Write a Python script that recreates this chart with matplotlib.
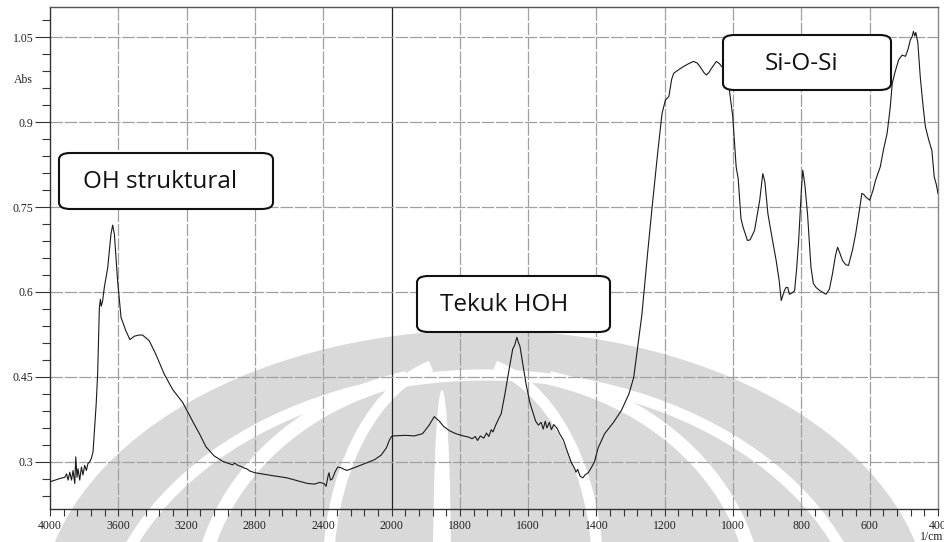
import numpy as np
import matplotlib
matplotlib.use("Agg")
from matplotlib import pyplot
from matplotlib.patches import Ellipse, Arc, FancyBboxPatch
from matplotlib.ticker import FixedLocator, FixedFormatter

# FTIR spectrum (wavenumber 1/cm, absorbance)
wavenumber = [
	4000, 3970, 3940, 3913, 3903, 3894, 3884, 3874, 3865, 3855, 3849, 3842, 3836, 3826,
	3816, 3807, 3797, 3787, 3778, 3768, 3758, 3748, 3740, 3730, 3721, 3711, 3705, 3700,
	3692, 3682, 3662, 3643, 3633, 3623, 3604, 3584, 3555, 3532, 3506, 3480, 3458, 3419,
	3380, 3331, 3282, 3223, 3165, 3120, 3087, 3040, 2988, 2931, 2918, 2900, 2880, 2860,
	2848, 2830, 2800, 2700, 2613, 2540, 2492, 2450, 2420, 2395, 2383, 2372, 2366, 2358,
	2347, 2330, 2315, 2298, 2262, 2200, 2158, 2100, 2061, 2030, 2012, 2000, 1994, 1960,
	1933, 1909, 1890, 1875, 1860, 1848, 1830, 1812, 1790, 1775, 1764, 1755, 1748, 1740,
	1730, 1722, 1715, 1708, 1703, 1695, 1685, 1679, 1668, 1655, 1645, 1640, 1636, 1633,
	1628, 1624, 1615, 1606, 1595, 1588, 1578, 1570, 1562, 1556, 1550, 1545, 1538, 1532,
	1525, 1515, 1508, 1497, 1485, 1473, 1465, 1460, 1455, 1448, 1440, 1432, 1424, 1415,
	1406, 1395, 1376, 1350, 1327, 1305, 1291, 1280, 1267, 1250, 1237, 1220, 1208, 1198,
	1188, 1180, 1174, 1160, 1145, 1130, 1116, 1105, 1097, 1085, 1078, 1070, 1063, 1049,
	1040, 1025, 1011, 1001, 991, 985, 977, 971, 958, 950, 937, 922, 913, 907, 898, 888,
	874, 865, 859, 850, 845, 840, 835, 828, 820, 814, 808, 800, 796, 790, 782, 772, 765,
	757, 745, 728, 718, 709, 700, 694, 687, 680, 670, 662, 650, 641, 630, 623, 617, 612,
	600, 590, 583, 569, 560, 549, 540, 534, 525, 515, 505, 495, 487, 481, 476, 472, 468,
	465, 459, 452, 444, 437, 427, 418, 411, 405, 400]
absorbance = [
	0.265, 0.268, 0.271, 0.273, 0.279, 0.268, 0.282, 0.268, 0.285, 0.262, 0.309, 0.273, 0.288, 0.268,
	0.291, 0.277, 0.294, 0.285, 0.297, 0.300, 0.306, 0.318, 0.355, 0.400, 0.455, 0.572, 0.587, 0.575,
	0.584, 0.608, 0.643, 0.702, 0.718, 0.702, 0.619, 0.555, 0.531, 0.516, 0.522, 0.524, 0.524, 0.514,
	0.490, 0.455, 0.428, 0.405, 0.372, 0.347, 0.327, 0.311, 0.301, 0.295, 0.298, 0.294, 0.292, 0.289,
	0.288, 0.284, 0.281, 0.276, 0.272, 0.266, 0.262, 0.261, 0.264, 0.262, 0.257, 0.275, 0.281, 0.268,
	0.270, 0.283, 0.291, 0.290, 0.285, 0.292, 0.297, 0.304, 0.312, 0.325, 0.339, 0.345, 0.346, 0.347,
	0.346, 0.350, 0.365, 0.380, 0.372, 0.363, 0.355, 0.350, 0.346, 0.344, 0.341, 0.345, 0.338, 0.346,
	0.342, 0.351, 0.345, 0.357, 0.353, 0.365, 0.378, 0.385, 0.420, 0.466, 0.500, 0.505, 0.514, 0.520,
	0.510, 0.504, 0.470, 0.437, 0.405, 0.391, 0.372, 0.365, 0.370, 0.358, 0.372, 0.360, 0.370, 0.357,
	0.366, 0.359, 0.350, 0.339, 0.318, 0.298, 0.290, 0.282, 0.287, 0.275, 0.272, 0.278, 0.281, 0.290,
	0.300, 0.325, 0.350, 0.370, 0.391, 0.420, 0.449, 0.500, 0.560, 0.670, 0.750, 0.850, 0.915, 0.939,
	0.945, 0.975, 0.986, 0.992, 0.998, 1.003, 1.007, 1.004, 0.998, 0.987, 0.983, 0.988, 0.995, 1.007,
	1.003, 0.992, 0.957, 0.910, 0.821, 0.800, 0.730, 0.715, 0.691, 0.692, 0.709, 0.762, 0.809, 0.795, 0.738, 0.703,
	0.656, 0.620, 0.585, 0.602, 0.608, 0.608, 0.596, 0.598, 0.602, 0.640, 0.691, 0.780, 0.815, 0.790, 0.738, 0.644, 0.615,
	0.608, 0.602, 0.596, 0.605, 0.632, 0.665, 0.679, 0.668, 0.656, 0.648, 0.647, 0.675, 0.703, 0.745, 0.774, 0.772, 0.768,
	0.762, 0.780, 0.797, 0.821, 0.850, 0.880, 0.925, 0.968, 0.990, 1.010, 1.018, 1.016, 1.030, 1.045, 1.050, 1.060, 1.052,
	1.058, 1.040, 0.980, 0.930, 0.892, 0.868, 0.850, 0.803, 0.790, 0.774]

x_major = [4000, 3600, 3200, 2800, 2400, 2000, 1800, 1600, 1400, 1200, 1000, 800, 600, 400]
y_major = [0.3, 0.45, 0.6, 0.75, 0.9, 1.05]
y_labels = ["0.3", "0.45", "0.6", "0.75", "0.9", "1.05"]

labels = [
	("OH struktural", (59, 153, 273, 209), 83),
	("Tekuk HOH", (417, 276, 610, 332), 440),
	("Si-O-Si", (723, 35, 891, 90), 765),
]

W, H = 945, 542

# above 2000 1/cm the axis runs at half the scale
def fwd(x):
	x = np.asarray(x, dtype=float)
	return np.where(x <= 2000, x, 2000 + (x - 2000) / 2.0)

def inv(t):
	t = np.asarray(t, dtype=float)
	return np.where(t <= 2000, t, 2000 + (t - 2000) * 2.0)

def fx(px):
	return px / W

def fy(py):
	return 1 - py / H

fig = pyplot.figure(figsize=(W / 100, H / 100), dpi=100)

# faint logo watermark behind the plot (pixel boxes from the top-left)
wm = '#d9d9d9'
def blob(cx, cy, w, h, **kw):
	fig.patches.append(Ellipse((fx(cx), fy(cy)), w / W, h / H, transform=fig.transFigure, **kw))

def arc(cx, cy, w, h, t1, t2, lw):
	fig.patches.append(Arc((fx(cx), fy(cy)), w / W, h / H, theta1=t1, theta2=t2,
		transform=fig.transFigure, color='white', linewidth=lw, zorder=-4))

blob(485, 615, 890, 570, facecolor=wm, edgecolor='none', zorder=-5)
arc(485, 655, 770, 560, 0, 180, 8)
arc(478, 610, 560, 480, 100, 205, 10)
arc(478, 610, 560, 480, -25, 80, 10)
arc(463, 575, 270, 430, 95, 200, 8)
arc(463, 575, 270, 430, -20, 85, 8)
blob(442, 570, 18, 360, facecolor='white', edgecolor='none', zorder=-4)

ax = fig.add_axes([50 / W, 1 - 509 / H, 888 / W, 502 / H])
ax.patch.set_visible(False)
ax.set_xscale('function', functions=(fwd, inv))
ax.set_xlim(4000, 400)
ax.set_ylim(0.217, 1.103)

for x in x_major[1:-1]:
	if x == 2000:
		ax.axvline(x, color='#222222', lw=0.9, zorder=1)
	else:
		ax.axvline(x, color='#a0a0a0', lw=0.9, dashes=(10, 1.5), zorder=1)
for y in y_major:
	ax.axhline(y, color='#a0a0a0', lw=0.9, dashes=(10, 1.5), zorder=1)

ax.plot(wavenumber, absorbance, color='#1a1a1a', lw=0.8, zorder=3)

x_minor = list(range(4000, 2000, -80)) + list(range(2000, 399, -40))
ax.xaxis.set_major_locator(FixedLocator(x_major))
ax.xaxis.set_major_formatter(FixedFormatter([str(v) for v in x_major]))
ax.xaxis.set_minor_locator(FixedLocator(x_minor))
ax.yaxis.set_major_locator(FixedLocator(y_major))
ax.yaxis.set_major_formatter(FixedFormatter(y_labels))
ax.yaxis.set_minor_locator(FixedLocator(np.round(np.arange(0.21, 1.1, 0.03), 2)))

tfont = dict(family='Liberation Serif', size=8.5)
ax.tick_params(axis='x', which='both', direction='out', length=5, width=0.8, color='#333333',
	pad=3, labelsize=8.5, labelcolor='#222222')
ax.tick_params(axis='y', which='major', direction='out', length=11, width=0.8, color='#333333',
	pad=1, labelsize=8.5, labelcolor='#222222')
ax.tick_params(axis='y', which='minor', direction='out', length=6, width=0.8, color='#333333')
for lab in ax.get_xticklabels() + ax.get_yticklabels():
	lab.set_family('Liberation Serif')

for side, col in (('left', '#333333'), ('bottom', '#333333'), ('top', '#555555'), ('right', '#888888')):
	ax.spines[side].set_color(col)
	ax.spines[side].set_linewidth(1.0)

ax.text(-0.019, 0.975, "Abs", transform=ax.get_yaxis_transform(), ha='right', va='center',
	color='#222222', **tfont)
fig.text(fx(943), fy(537), "1/cm", ha='right', va='center', color='#222222', **tfont)

for text, (x0, y0, x1, y1), tx in labels:
	box = FancyBboxPatch((fx(x0), fy(y1)), (x1 - x0) / W, (y1 - y0) / H,
		boxstyle="round,pad=0,rounding_size=0.012", transform=fig.transFigure,
		facecolor='white', edgecolor='#111111', linewidth=1.5, zorder=5)
	fig.patches.append(box)
	fig.text(fx(tx), fy((y0 + y1) / 2 + 1), text, ha='left', va='center', family='Open Sans',
		fontsize=17.5, color='#111111', zorder=6)

pyplot.savefig('out.png', dpi=100)
